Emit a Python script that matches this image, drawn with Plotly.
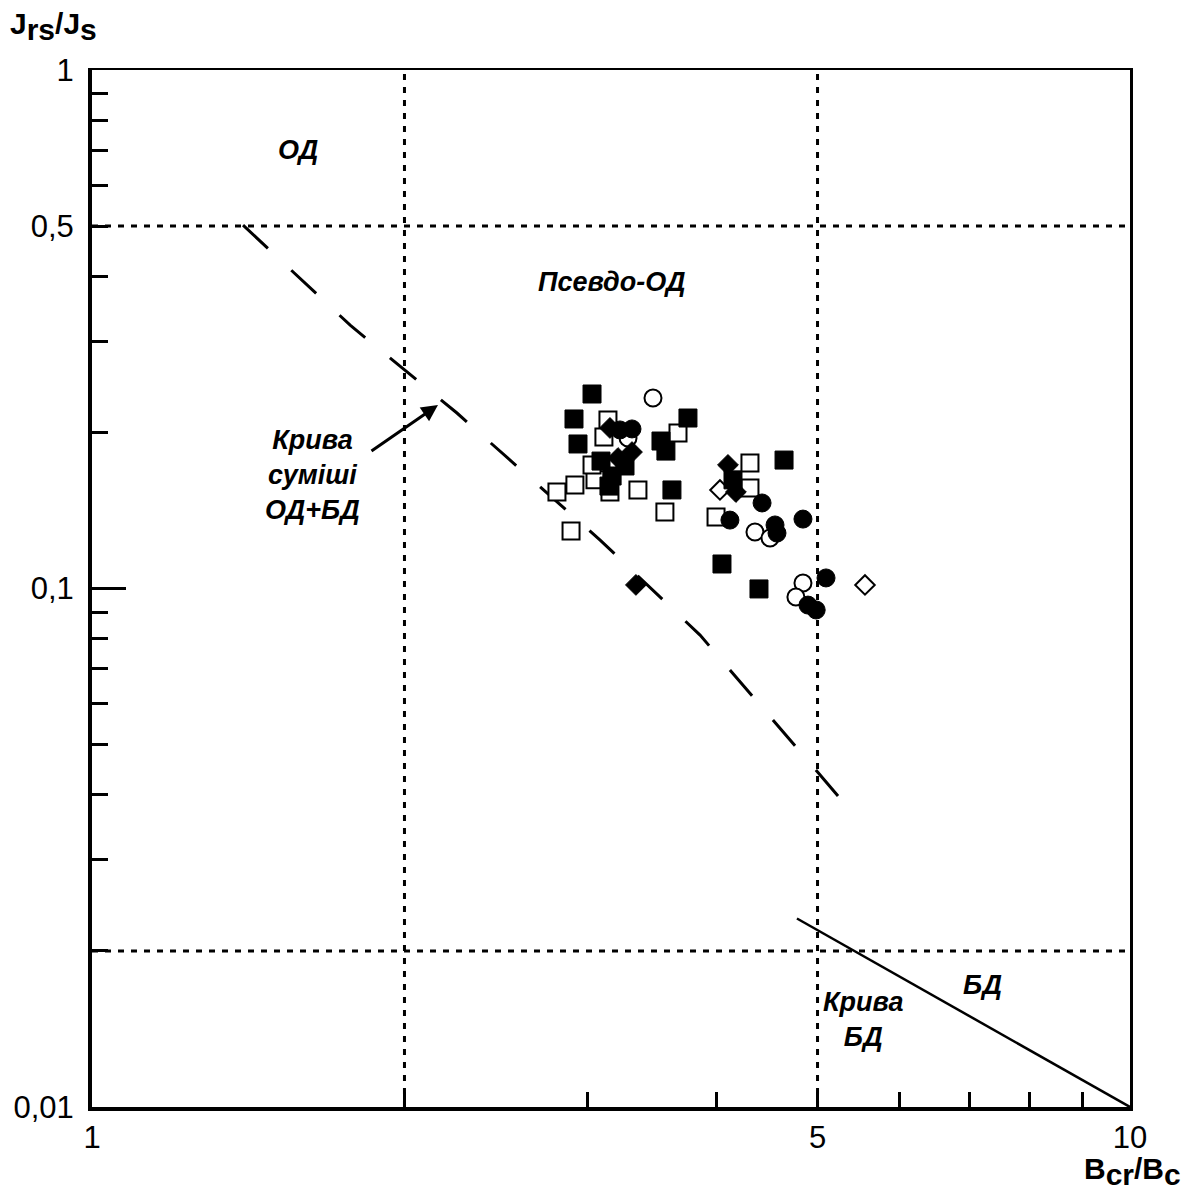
import numpy as np
import plotly.graph_objects as go

# ---------------- data ----------------
fsq_x = [3.032, 2.913, 2.939, 3.751, 3.533, 3.572, 3.620, 4.642, 4.045, 4.391,
         3.093, 3.170, 3.262, 3.148, 4.145]
fsq_y = [0.2372, 0.2123, 0.1900, 0.2132, 0.1925, 0.1841, 0.1549, 0.1769, 0.1115, 0.0998,
         0.1761, 0.1648, 0.1723, 0.1576, 0.1620]

osq_x = [2.805, 2.919, 2.894, 3.052, 3.032, 3.155, 3.357, 3.564, 3.669, 3.141,
         3.113, 4.304, 4.304, 3.992]
osq_y = [0.1535, 0.1583, 0.1291, 0.1620, 0.1731, 0.1535, 0.1549, 0.1405, 0.1995, 0.2113,
         0.1960, 0.1746, 0.1562, 0.1373]

fci_x = [3.226, 3.313, 4.421, 4.117, 4.550, 4.570, 4.841, 5.095, 4.895, 4.985]
fci_y = [0.2022, 0.2031, 0.1462, 0.1355, 0.1326, 0.1279, 0.1361, 0.1048, 0.0929, 0.0909]

oci_x = [3.471, 4.352, 4.500, 4.841, 4.766, 3.284]
oci_y = [0.2330, 0.1285, 0.1251, 0.1025, 0.0963, 0.1951]

fdi_x = [3.155, 3.313, 3.212, 3.342, 4.099, 4.172]
fdi_y = [0.2040, 0.1833, 0.1785, 0.1016, 0.1731, 0.1535]

odi_x = [4.027, 5.555]
odi_y = [0.1549, 0.1016]

# mixing curve SD+MD (dashed)
mix_x = [1.398, 1.773, 2.247, 3.087, 3.853, 5.35]
mix_y = [0.502, 0.322, 0.218, 0.124, 0.0813, 0.0378]

# MD curve (solid)
md_x = [4.777, 10.0]
md_y = [0.0231, 0.01]

# region boundaries
bound_x = [2, 5]
bound_y = [0.5, 0.02]

x_ticks = [1, 5, 10]
x_ticktext = ["1", "5", "10"]
x_minor = [2, 3, 4, 6, 7, 8, 9]
y_ticks = [0.01, 0.1, 0.5, 1]
y_ticktext = ["0,01", "0,1", "0,5", "1"]
y_minor = [0.02, 0.03, 0.04, 0.05, 0.06, 0.07, 0.08, 0.09, 0.2, 0.3, 0.4, 0.6, 0.7, 0.8, 0.9]
y_major_long = [0.1, 1]

FONT = "Liberation Sans, Arial, sans-serif"

fig = go.Figure()

# boundary dotted lines
for bx in bound_x:
    fig.add_trace(go.Scatter(x=[bx, bx], y=[0.01, 1], mode="lines",
                             line=dict(color="black", width=3, dash="6px,7px"),
                             hoverinfo="skip", showlegend=False))
for by in bound_y:
    fig.add_trace(go.Scatter(x=[1, 10], y=[by, by], mode="lines",
                             line=dict(color="black", width=3, dash="6px,7px"),
                             hoverinfo="skip", showlegend=False))

# curves
fig.add_trace(go.Scatter(x=mix_x, y=mix_y, mode="lines",
                         line=dict(color="black", width=3, dash="34px,32px"),
                         showlegend=False))
fig.add_trace(go.Scatter(x=md_x, y=md_y, mode="lines",
                         line=dict(color="black", width=2.5),
                         showlegend=False))

def add_markers(xs, ys, symbol, filled, size):
    fig.add_trace(go.Scatter(
        x=xs, y=ys, mode="markers", showlegend=False,
        marker=dict(symbol=symbol, size=size,
                    color="black" if filled else "white",
                    line=dict(color="black", width=1 if filled else 2))))

add_markers(osq_x, osq_y, "square", False, 17)
add_markers(oci_x, oci_y, "circle", False, 17)
add_markers(odi_x, odi_y, "diamond", False, 15)
add_markers(fsq_x, fsq_y, "square", True, 18)
add_markers(fci_x, fci_y, "circle", True, 18)
add_markers(fdi_x, fdi_y, "diamond", True, 16)

# frame on top/right via overlaying axes
fig.add_trace(go.Scatter(x=[1], y=[1], xaxis="x2", yaxis="y2", mode="markers",
                         marker=dict(opacity=0), hoverinfo="skip", showlegend=False))
fig.add_trace(go.Scatter(x=[1], y=[1], xaxis="x", yaxis="y3", mode="markers",
                         marker=dict(opacity=0), hoverinfo="skip", showlegend=False))

lbl_font = dict(family=FONT, size=27, color="black")
ann = [
    dict(x=0.198, y=-0.154, text="<b><i>ОД</i></b>"),
    dict(x=0.500, y=-0.409, text="<b><i>Псевдо-ОД</i></b>"),
    dict(x=0.212, y=-0.782, text="<b><i>Крива<br>суміші<br>ОД+БД</i></b>"),
    dict(x=0.858, y=-1.765, text="<b><i>БД</i></b>"),
    dict(x=0.743, y=-1.832, text="<b><i>Крива<br>БД</i></b>"),
]
annotations = []
for a in ann:
    annotations.append(dict(xref="x", yref="y", showarrow=False,
                            font=lbl_font, xanchor="center", yanchor="middle", **a))
# arrow
annotations.append(dict(xref="x", yref="y", axref="x", ayref="y",
                        x=0.3333, y=-0.6461, ax=0.2678, ay=-0.7367, text="",
                        showarrow=True, arrowhead=2, arrowsize=1.1, arrowwidth=3,
                        arrowcolor="black"))
# axis titles
sub = "<sub><span style='font-size:30px'>%s</span></sub>"
annotations.append(dict(xref="paper", yref="paper", x=-0.081, y=1.063,
                        xanchor="left", yanchor="top", showarrow=False,
                        text="<b>J" + sub % "rs" + "/J" + sub % "s" + "</b>",
                        font=dict(family=FONT, size=30, color="black")))
annotations.append(dict(xref="paper", yref="paper", x=1.051, y=-0.083,
                        xanchor="right", yanchor="bottom", showarrow=False,
                        text="<b>B" + sub % "cr" + "/B" + sub % "c" + "</b>",
                        font=dict(family=FONT, size=30, color="black")))

tick_font = dict(family=FONT, size=31, color="black")

fig.update_layout(
    width=1192, height=1193,
    margin=dict(l=92, r=62, t=70, b=86),
    paper_bgcolor="white", plot_bgcolor="white",
    showlegend=False,
    annotations=annotations,
    xaxis=dict(type="log", range=[0, 1], showgrid=False, zeroline=False,
               showline=True, linewidth=4, linecolor="black",
               ticks="inside", tickvals=x_ticks, ticktext=x_ticktext,
               ticklen=15, tickwidth=3, tickcolor="black", tickfont=tick_font,
               minor=dict(tickmode="array", tickvals=x_minor, ticks="inside",
                          ticklen=15, tickwidth=3, tickcolor="black", showgrid=False)),
    yaxis=dict(type="log", range=[-2, 0], showgrid=False, zeroline=False,
               showline=True, linewidth=4, linecolor="black",
               ticks="inside", tickvals=y_ticks, ticktext=y_ticktext,
               ticklen=16, tickwidth=3, tickcolor="black", tickfont=tick_font,
               ticklabelstandoff=8,
               minor=dict(tickmode="array", tickvals=y_minor, ticks="inside",
                          ticklen=16, tickwidth=3, tickcolor="black", showgrid=False)),
    xaxis2=dict(type="log", range=[0, 1], overlaying="x", side="top", anchor="y",
                showgrid=False, zeroline=False, showline=True, linewidth=2,
                linecolor="black", ticks="", showticklabels=False),
    yaxis2=dict(type="log", range=[-2, 0], overlaying="y", side="left", anchor="x",
                showgrid=False, zeroline=False, showline=False,
                ticks="inside", tickvals=y_major_long, ticklen=34, tickwidth=3,
                tickcolor="black", showticklabels=False),
    yaxis3=dict(type="log", range=[-2, 0], overlaying="y", side="right", anchor="x",
                showgrid=False, zeroline=False, showline=True, linewidth=3,
                linecolor="black", ticks="", showticklabels=False),
)

fig.write_html("out.html")
